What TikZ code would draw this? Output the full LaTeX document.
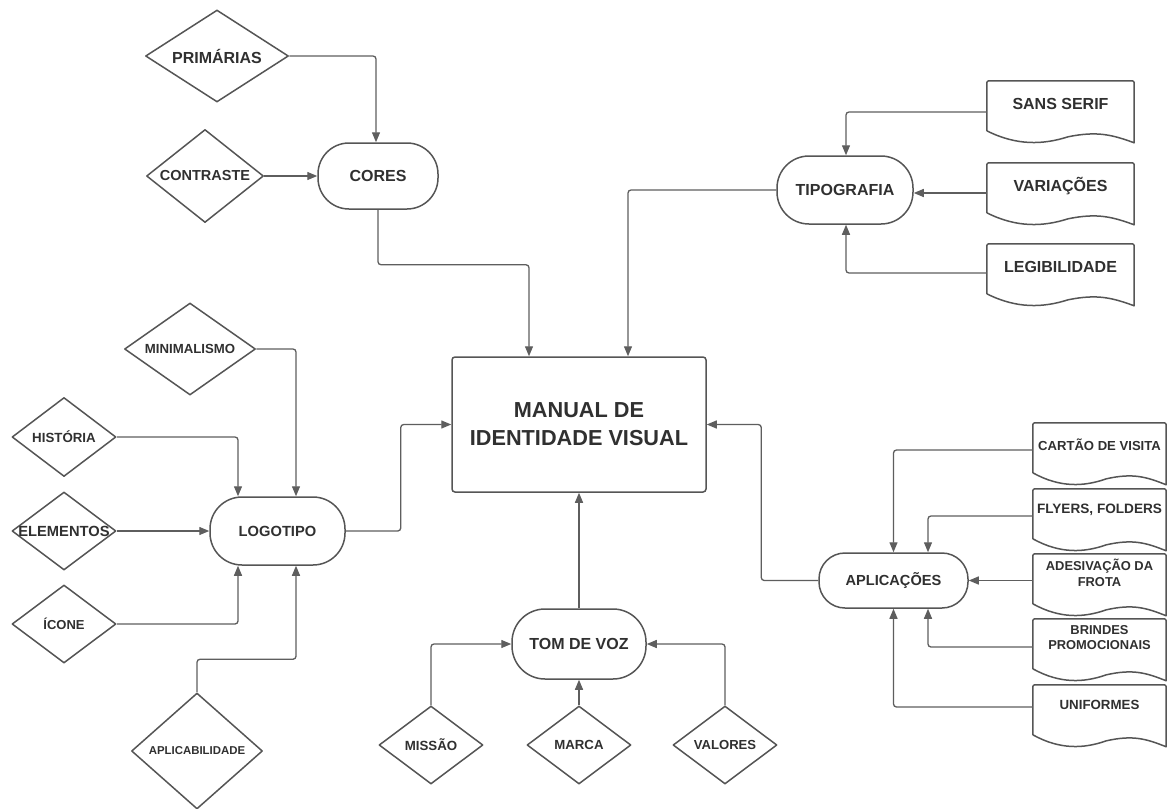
\documentclass[tikz,border=0pt]{standalone}
\usepackage{fontspec}
\setmainfont{Liberation Sans}
\usetikzlibrary{arrows.meta,shapes.geometric}
\definecolor{edgegray}{HTML}{555555}
\definecolor{linegray}{HTML}{5E5E5E}
\definecolor{txtgray}{HTML}{303030}
\newcommand{\fsz}[1]{\fontsize{#1}{1.2\dimexpr#1pt\relax}\selectfont\bfseries}
\tikzset{
  shapeline/.style={draw=edgegray, line width=1.5pt},
  pill/.style={shapeline, rectangle, rounded corners=31pt, inner sep=0pt, text=txtgray, align=center},
  mainbox/.style={shapeline, rectangle, rounded corners=3pt, inner sep=0pt, text=txtgray, align=center},
  diam/.style={shapeline, diamond, inner sep=0pt, line join=round},
  dtext/.style={text=txtgray, inner sep=0pt, align=center},
  docbox/.style={rectangle, inner sep=0pt, minimum height=50pt},
  conn/.style={draw=linegray, line width=1.3pt, rounded corners=3pt},
  arr/.style={conn, -{Triangle[length=10pt,width=8pt]}},
}
\pgfkeys{/tmp/w/.initial=140pt}
% document-style box: flat top, wavy bottom edge
\newcommand{\docshape}[1]{%
  \draw[shapeline, line join=round]
    ([shift={(0pt,-50pt)}]#1.north west) -- ([shift={(0pt,-2pt)}]#1.north west)
    to[out=90,in=180] ([shift={(2pt,0pt)}]#1.north west) -- ([shift={(-2pt,0pt)}]#1.north east)
    to[out=0,in=90] ([shift={(0pt,-2pt)}]#1.north east) -- ([shift={(0pt,-62pt)}]#1.north east)
    .. controls ([shift={(-0.15*\pgfkeysvalueof{/tmp/w},-54pt)}]#1.north east)
       and ([shift={(-0.25*\pgfkeysvalueof{/tmp/w},-50pt)}]#1.north east)
    .. ([shift={(-0.45*\pgfkeysvalueof{/tmp/w},-56pt)}]#1.north east)
    .. controls ([shift={(-0.62*\pgfkeysvalueof{/tmp/w},-64pt)}]#1.north east)
       and ([shift={(-0.8*\pgfkeysvalueof{/tmp/w},-65pt)}]#1.north east)
    .. ([shift={(0pt,-50pt)}]#1.north west);
}
\begin{document}
\begin{tikzpicture}[x=1pt,y=-1pt]
\useasboundingbox[fill=white] (0,0) rectangle (1168,809);

% central box
\node[mainbox, minimum width=254pt, minimum height=135pt, font=\fsz{21.7}]
  (manual) at (579,424.5) {MANUAL DE\\[2pt]IDENTIDADE VISUAL};

% rounded topic boxes
\node[pill, rounded corners=31pt, minimum width=120pt, minimum height=66pt, font=\fsz{16}] (cores) at (378,176) {CORES};
\node[pill, rounded corners=32pt, minimum width=136pt, minimum height=68pt, font=\fsz{16}] (tipo) at (845,190) {TIPOGRAFIA};
\node[pill, rounded corners=32pt, minimum width=135pt, minimum height=68pt, font=\fsz{14.7}] (logo) at (277.5,531) {LOGOTIPO};
\node[pill, rounded corners=33pt, minimum width=134pt, minimum height=70pt, font=\fsz{16}] (tom) at (579,644) {TOM DE VOZ};
\node[pill, rounded corners=26pt, minimum width=149pt, minimum height=55pt, font=\fsz{14.6}] (apl) at (893.5,580.5) {APLICAÇÕES};

% diamonds
\node[diam, minimum width=143pt, minimum height=92pt] (prim) at (217,56) {};
\node[dtext, font=\fsz{16}] (primt) at (prim) {PRIMÁRIAS};
\node[diam, minimum width=117pt, minimum height=93pt] (contr) at (205,176) {};
\node[dtext, font=\fsz{14.5}] (contrt) at (contr) {CONTRASTE};
\node[diam, minimum width=131pt, minimum height=92pt] (mini) at (190,349) {};
\node[dtext, font=\fsz{13.2}] (minit) at (mini) {MINIMALISMO};
\node[diam, minimum width=104pt, minimum height=79pt] (hist) at (64,437) {};
\node[dtext, font=\fsz{13.3}] (histt) at (hist) {HISTÓRIA};
\node[diam, minimum width=104pt, minimum height=78pt] (elem) at (64,531) {};
\node[dtext, font=\fsz{14.7}] (elemt) at (elem) {ELEMENTOS};
\node[diam, minimum width=104pt, minimum height=78pt] (icone) at (64,624) {};
\node[dtext, font=\fsz{13}] (iconet) at (icone) {ÍCONE};
\node[diam, minimum width=131pt, minimum height=116pt] (aplic) at (197,751) {};
\node[dtext, font=\fsz{11.4}] (aplict) at (aplic) {APLICABILIDADE};
\node[diam, minimum width=104pt, minimum height=78pt] (missao) at (431,745) {};
\node[dtext, font=\fsz{13.3}] (missaot) at (missao) {MISSÃO};
\node[diam, minimum width=104pt, minimum height=78pt] (marca) at (579,745) {};
\node[dtext, font=\fsz{13.2}] (marcat) at (marca) {MARCA};
\node[diam, minimum width=104pt, minimum height=78pt] (valores) at (725,745) {};
\node[dtext, font=\fsz{13.1}] (valorest) at (valores) {VALORES};

% document boxes (typography)
\pgfkeys{/tmp/w=147pt}
\node[docbox, minimum width=147pt] (sans) at (1060.5,106) {};
\docshape{sans}
\node[dtext, font=\fsz{16}] (sanst) at (1060.5,104) {SANS SERIF};
\node[docbox, minimum width=147pt] (var) at (1060.5,188) {};
\docshape{var}
\node[dtext, font=\fsz{16}] (vart) at (1060.5,186) {VARIAÇÕES};
\node[docbox, minimum width=147pt] (leg) at (1060.5,269) {};
\docshape{leg}
\node[dtext, font=\fsz{16}] (legt) at (1060.5,267) {LEGIBILIDADE};

% document boxes (applications)
\pgfkeys{/tmp/w=133pt}
\node[docbox, minimum width=133pt] (cart) at (1099.5,448) {};
\docshape{cart}
\node[dtext, font=\fsz{13.1}] (cartt) at (1099.5,445) {CARTÃO DE VISITA};
\node[docbox, minimum width=133pt] (fly) at (1099.5,514) {};
\docshape{fly}
\node[dtext, font=\fsz{13.6}] (flyt) at (1099.5,510) {FLYERS, FOLDERS};
\node[docbox, minimum width=133pt] (ades) at (1099.5,579) {};
\docshape{ades}
\node[dtext, font=\fsz{12.9}] (adest) at (1099.5,573) {ADESIVAÇÃO DA\\FROTA};
\node[docbox, minimum width=133pt] (brin) at (1099.5,644) {};
\docshape{brin}
\node[dtext, font=\fsz{12.9}] (brint) at (1099.5,637.5) {BRINDES\\PROMOCIONAIS};
\node[docbox, minimum width=133pt] (unif) at (1099.5,710) {};
\docshape{unif}
\node[dtext, font=\fsz{13.3}] (unift) at (1099.5,705) {UNIFORMES};

% connectors: colours
\draw[arr] (prim.east) -| ([xshift=-2pt]cores.north);
\draw[arr] (contr.east) -- (cores.west);
\draw[arr] (cores.south) -- ++(0,55) -| ([xshift=-50pt]manual.north);

% connectors: typography
\draw[arr] (tipo.west) -| ([xshift=49pt]manual.north);
\draw[arr] ([yshift=-6pt]sans.west) -| ([xshift=1pt]tipo.north);
\draw[arr] ([yshift=-5pt]var.west) -- ([yshift=-5pt]var.west -| tipo.east);
\draw[arr] ([yshift=-4pt]leg.west) -| ([xshift=1pt]tipo.south);

% connectors: logo
\draw[arr] (logo.east) -- ++(55,0) |- (manual.west);
\draw[arr] (mini.east) -| ([xshift=18.5pt]logo.north);
\draw[arr] (hist.east) -| ([xshift=-39.5pt]logo.north);
\draw[arr] (elem.east) -- (logo.west);
\draw[arr] (icone.east) -| ([xshift=-39.5pt]logo.south);
\draw[arr] (aplic.north) -- ++(0,-33) -| ([xshift=18.5pt]logo.south);

% connectors: tone of voice
\draw[arr] (tom.north) -- (manual.south);
\draw[arr] (missao.north) |- (tom.west);
\draw[arr] (marca.north) -- (tom.south);
\draw[arr] (valores.north) |- (tom.east);

% connectors: applications
\draw[arr] (apl.west) -- ++(-57,0) |- (manual.east);
\draw[arr] ([yshift=-2pt]cart.west) -| (apl.north);
\draw[arr] ([yshift=-2pt]fly.west) -| ([xshift=34.5pt]apl.north);
\draw[arr] (ades.west |- apl.east) -- (apl.east);
\draw[arr] ([yshift=-3pt]brin.west) -| ([xshift=34.5pt]apl.south);
\draw[arr] ([yshift=3pt]unif.west) -| (apl.south);
\end{tikzpicture}
\end{document}
